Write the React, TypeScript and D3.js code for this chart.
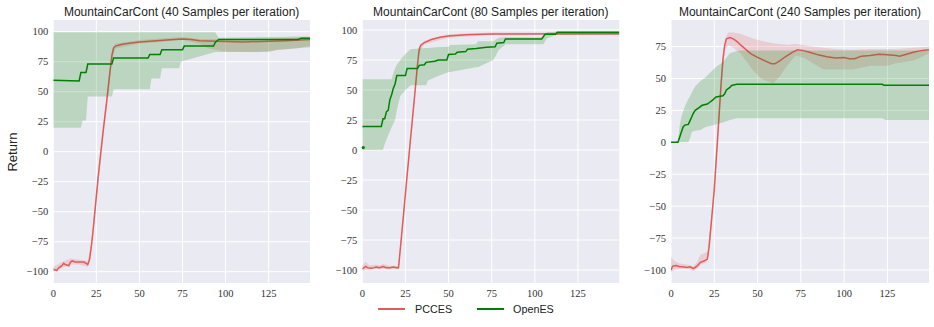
import React from 'react';
import * as d3 from 'd3';

type P = [number, number];
type B = [number, number, number];

const titles = [
  'MountainCarCont (40 Samples per iteration)',
  'MountainCarCont (80 Samples per iteration)',
  'MountainCarCont (240 Samples per iteration)',
];
const seriesNames = ['PCCES', 'OpenES'];
const xTicks = [0, 25, 50, 75, 100, 125];
const yTicksA = [-100, -75, -50, -25, 0, 25, 50, 75, 100];
const yTicksB = [-100, -75, -50, -25, 0, 25, 50, 75];

// ---- Panel 1 (40 samples)
const p1Pcces: P[] = [[0,-98],[2,-99],[3,-97],[5,-95],[6,-93],[7,-94],[9,-95],[10,-92],[11,-91],[13,-92],[16,-92],[18,-92],[19,-93],[20,-94],[21,-90],[22,-80],[23,-67],[24,-52],[25,-37],[26,-22],[27,-8],[28,5],[29,18],[30,30],[31,42],[32,55],[33,68],[34,80],[35,86.5],[36,88],[40,89.5],[45,90.5],[50,91.5],[60,92.5],[70,93.5],[75,94],[80,93.5],[85,92.5],[95,92],[110,91.5],[125,92],[135,92.5],[149,93.5]];
const p1PccesBand: B[] = [[0,-100,-96],[5,-97,-92],[10,-94,-89],[15,-94,-90],[20,-96,-91],[22,-84,-76],[25,-42,-32],[30,25,35],[34,76,84],[36,86,90],[50,90,93],[75,93,95.5],[85,90,94],[90,86,94],[100,83.5,94],[115,83,94],[125,84,94],[140,86,95],[149,88,95.5]];
const p1Openes: P[] = [[0,59.5],[15,59],[16,66],[19,66],[20,73],[34,73],[35,78],[55,78],[56,81],[62,81],[63,85],[75,85],[76,88],[93,88],[94,91],[96,93.5],[142,93.5],[144,94.5],[149,94.5]];
const p1OpenesBand: B[] = [[0,20,99.5],[16,20,99.5],[17,26,99.5],[19,26,99.5],[20,46,99.5],[34,46,99.5],[35,52,99.5],[56,52,99.5],[57,61,99.5],[62,61,99.5],[63,69.5,99.5],[73,69.5,99.5],[74,75,99.5],[94,83,99.5],[96,83,95],[125,83,95.5],[130,85,95.5],[140,86,96],[149,87,96]];

// ---- Panel 2 (80 samples)
const p2Pcces: P[] = [[0,-99],[1,-98],[2,-97],[3,-98],[5,-98.5],[7,-98],[8,-97.5],[10,-98],[12,-97],[14,-98],[16,-98],[18,-97.5],[20,-98],[21,-98],[22,-83],[24,-52],[26,-21],[28,10],[30,40],[32,71],[33,84],[34,87.5],[36,89.5],[40,92],[45,94],[50,95],[60,96],[75,96.7],[149,96.8]];
const p2PccesBand: B[] = [[0,-101,-96],[2,-100,-93],[4,-99.5,-96],[8,-99,-95.5],[10,-99.5,-96],[12,-99,-95],[16,-99.5,-96.5],[20,-99.5,-96.5],[21,-99.5,-96.5],[22,-86,-80],[33,81,86],[36,88,91],[50,93.5,96.5],[75,95.8,97.8],[149,96,97.8]];
const p2OpenesStart: P[] = [[0,2]];
const p2Openes: P[] = [[0,19.5],[11,19.5],[12,26],[13,26],[14,32],[15,33],[16,42],[17,46],[18,51.5],[19,55],[20,62],[25,62],[26,68],[32,68],[33,70.5],[36,71],[37,73],[42,74],[44,75],[49,75],[50,79.5],[54,80],[55,81.5],[60,82],[61,84],[66,84.5],[72,85.5],[77,86],[78,89],[82,89.5],[83,92.5],[104,92.5],[105,94.5],[106,96.4],[112,96.4],[113,98],[149,98]];
const p2OpenesBand: B[] = [[0,0,59],[12,0,59],[13,5,59],[15,12,59],[17,19,59],[18,22,64],[19,25,68],[20,33,71],[22,45,75],[25,50,80],[28,54,84],[37,54,85],[38,58,85],[43,61,85.5],[50,65,86],[51,65,87.5],[66,69,88],[67,69,90.5],[76,75,90.5],[79,83,93.5],[83,88,94],[105,88,94],[107,93,98],[113,96,98.5],[149,96,98.5]];

// ---- Panel 3 (240 samples)
const p3Pcces: P[] = [[0,-100],[1,-97],[3,-96.5],[5,-97.5],[7,-97.5],[9,-98],[11,-97.5],[13,-99],[15,-97],[17,-94],[19,-93],[21,-91.5],[22,-82],[23,-67],[24,-52],[25,-37],[26,-16],[27,5],[28,26],[29,47],[30,65],[31,76],[32,81],[34,82],[36,81],[38,79],[40,76.5],[43,73],[46,69.5],[50,66.5],[54,64],[58,61.5],[60,61.5],[63,64],[66,67],[70,70.5],[73,72.5],[76,72],[80,70.5],[85,68.5],[90,67],[95,66],[100,66.5],[103,65.5],[106,65.5],[110,67.5],[115,68],[120,69],[125,68.5],[130,68],[132,67.5],[136,69],[140,70.5],[145,72],[149,72.5]];
const p3PccesBand: B[] = [[0,-102,-90],[2,-100,-93],[5,-99,-95],[10,-99,-96],[13,-101,-97],[15,-99,-94],[17,-96,-88],[21,-94,-86],[23,-72,-62],[26,-21,-11],[29,42,52],[31,72,80],[33,76,86],[36,74,86],[40,70,85],[47,57,81.5],[52,50,79.5],[59,46,77.5],[63,52,77],[67,60,76.5],[72,68,77],[77,66,76],[82,62,75],[88,57,74],[95,57,73],[105,57,72.5],[115,60,73],[125,60,73],[130,62,73],[140,64,74],[145,67,74.5],[149,70,75]];
const p3Openes: P[] = [[0,0],[4,0],[5,4],[6,8],[7,12],[8,13.5],[10,14],[11,17],[12,20],[13,23],[14,25],[16,27],[18,29],[21,30],[22,31],[24,33],[26,35.5],[30,36.5],[31,38],[32,41],[34,43],[35,44.5],[38,45.4],[122,45.4],[123,44.6],[149,44.6]];
const p3OpenesBand: B[] = [[0,0,0],[4,0,1],[5,0,13],[6,0,20],[8,0,28],[10,0,34],[11,3,36],[12,8,39],[14,9,44],[17,9.6,48],[20,12,51],[23,13,55],[26,14,59],[28,15,61],[30,15.5,63],[34,17.5,69.7],[38,18.8,71.5],[40,18.8,72],[122,18.8,72],[124,17.5,72],[149,17.5,72]];

const RED = '#e35a5a';
const GREEN = '#008000';
const BG = '#eaeaf2';

interface PanelCfg {
  title: string;
  x0: number; x1: number; y0: number; y1: number;
  yDom: [number, number];
  yTicks: number[];
  pcces: P[]; pccesBand: B[]; openes: P[]; openesBand: B[]; openesDots?: P[];
}

const panels: PanelCfg[] = [
  { title: titles[0], x0: 53.3, x1: 310, y0: 20, y1: 283, yDom: [-109.4, 109.75], yTicks: yTicksA,
    pcces: p1Pcces, pccesBand: p1PccesBand, openes: p1Openes, openesBand: p1OpenesBand },
  { title: titles[1], x0: 362.3, x1: 619.3, y0: 20, y1: 283, yDom: [-110.8, 108.3], yTicks: yTicksA,
    pcces: p2Pcces, pccesBand: p2PccesBand, openes: p2Openes, openesBand: p2OpenesBand, openesDots: p2OpenesStart },
  { title: titles[2], x0: 671, x1: 929, y0: 20, y1: 283, yDom: [-110.2, 95.8], yTicks: yTicksB,
    pcces: p3Pcces, pccesBand: p3PccesBand, openes: p3Openes, openesBand: p3OpenesBand },
];

const fmt = (v: number) => (v < 0 ? '\u2212' + Math.abs(v) : String(v));

function Panel({ cfg, idx }: { cfg: PanelCfg; idx: number }) {
  const x = d3.scaleLinear().domain([0, 149]).range([cfg.x0, cfg.x1]);
  const y = d3.scaleLinear().domain(cfg.yDom).range([cfg.y1, cfg.y0]);
  const line = d3.line<P>().x(d => x(d[0])).y(d => y(d[1]));
  const area = d3.area<B>().x(d => x(d[0])).y0(d => y(d[1])).y1(d => y(d[2]));
  const clipId = `clip${idx}`;
  return (
    <g>
      <defs>
        <clipPath id={clipId}>
          <rect x={cfg.x0} y={cfg.y0} width={cfg.x1 - cfg.x0} height={cfg.y1 - cfg.y0} />
        </clipPath>
      </defs>
      <rect x={cfg.x0} y={cfg.y0} width={cfg.x1 - cfg.x0} height={cfg.y1 - cfg.y0} fill={BG} />
      {xTicks.map(t => (
        <line key={'gx' + t} x1={x(t)} x2={x(t)} y1={cfg.y0} y2={cfg.y1} stroke="#fff" strokeWidth={1} />
      ))}
      {cfg.yTicks.map(t => (
        <line key={'gy' + t} x1={cfg.x0} x2={cfg.x1} y1={y(t)} y2={y(t)} stroke="#fff" strokeWidth={1} />
      ))}
      <g clipPath={`url(#${clipId})`}>
        <path d={area(cfg.pccesBand) || ''} fill={RED} fillOpacity={0.2} />
        <path d={line(cfg.pcces) || ''} fill="none" stroke={RED} strokeWidth={1.5} />
        <path d={area(cfg.openesBand) || ''} fill={GREEN} fillOpacity={0.2} />
        <path d={line(cfg.openes) || ''} fill="none" stroke={GREEN} strokeWidth={1.5} />
      </g>
      {(cfg.openesDots || []).map((d, i) => (
        <circle key={'d' + i} cx={x(d[0]) + 1} cy={y(d[1])} r={1.6} fill={GREEN} />
      ))}
      {xTicks.map(t => (
        <text key={'tx' + t} x={x(t)} y={297} textAnchor="middle" fontFamily="Liberation Serif" fontSize={10.5} fill="#333">{fmt(t)}</text>
      ))}
      {cfg.yTicks.map(t => (
        <text key={'ty' + t} x={cfg.x0 - 5} y={y(t) + 3.6} textAnchor="end" fontFamily="Liberation Serif" fontSize={10.5} fill="#333">{fmt(t)}</text>
      ))}
      <text x={(cfg.x0 + cfg.x1) / 2} y={15.5} textAnchor="middle" fontFamily="Liberation Sans" fontSize={12} fill="#222">{cfg.title}</text>
    </g>
  );
}

export default function App() {
  return (
    <svg width={934} height={327} style={{ position: 'absolute', left: 0, top: 0, background: '#fff' }}>
      <rect width={934} height={327} fill="#fff" />
      {panels.map((p, i) => <Panel key={i} cfg={p} idx={i} />)}
      <text transform="translate(17,152) rotate(-90)" textAnchor="middle" fontFamily="Liberation Sans" fontSize={13} fill="#222">Return</text>
      <line x1={378} x2={405} y1={309} y2={309} stroke={RED} strokeWidth={2} />
      <text x={415} y={313} fontFamily="Liberation Sans" fontSize={10.8} fill="#222">{seriesNames[0]}</text>
      <line x1={477} x2={504} y1={309} y2={309} stroke={GREEN} strokeWidth={2} />
      <text x={513} y={313} fontFamily="Liberation Sans" fontSize={10.8} fill="#222">{seriesNames[1]}</text>
    </svg>
  );
}
